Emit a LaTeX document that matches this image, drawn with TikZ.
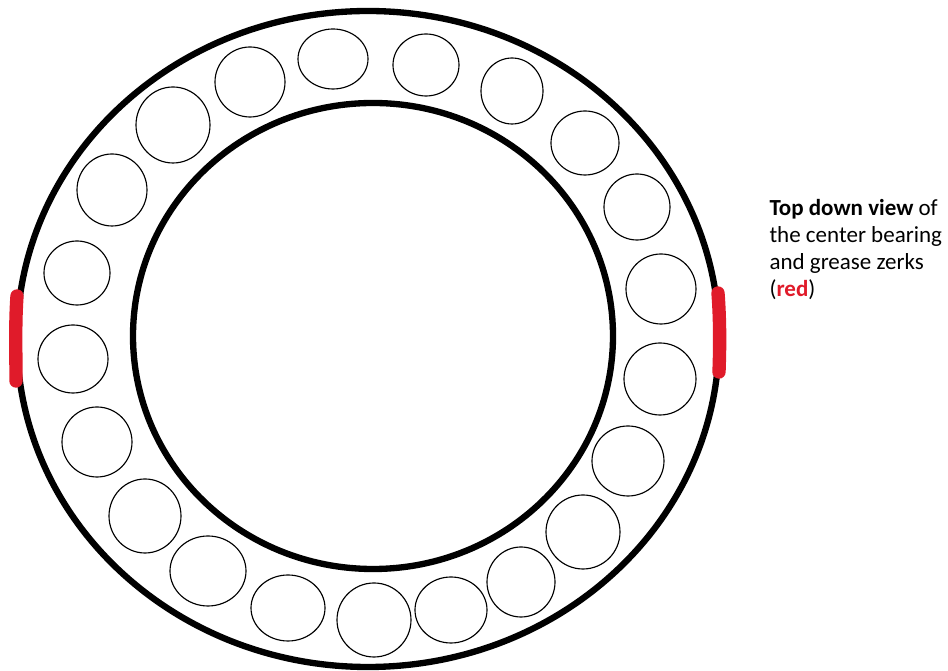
\documentclass[tikz,border=0pt]{standalone}
\usepackage{fontspec}
\setmainfont{Carlito}
\definecolor{zerkred}{HTML}{E01B2A}
\begin{document}
\begin{tikzpicture}[x=0.02cm,y=-0.02cm,line width=0.6pt,
  ring/.style={line width=3.6pt},
  ball/.style={draw=black,line width=0.65pt},
  zerk/.style={zerkred,line width=7.6pt,line cap=round}]
  \useasboundingbox (0,0) rectangle (948,671);
  \draw[ring] (368,339) ellipse[x radius=351,y radius=328];
  \draw[ring] (373,336) ellipse[x radius=240,y radius=233];
  \foreach \cx/\cy/\rx/\ry in {333/59/35/30,426/65/33/31,512/91/31/33,585/143/34/32,637/207/33/33,
    661/289/35/35,660/379/36/36,628/461/36/35,583/532/37/37,521/582/34/35,451/610/36/33,374/620/37/37,
    288/608/37/33,208/571/38/35,145/516/36/37,97/442/35/35,73/359/35/34,77/273/33/32,112/190/35/36,
    173/125/37/38,250/82/35/35}
    \draw[ball] (\cx,\cy) ellipse[x radius=\rx,y radius=\ry];
  \draw[zerk] (17,296) .. controls (15,325) and (16,350) .. (16,381);
  \draw[zerk] (718,293) .. controls (720,320) and (720,345) .. (719,372);
  \node[anchor=base west,align=left,inner sep=0pt,font=\fontsize{13.1pt}{15.5pt}\selectfont] (note) at (769,297)
    {\textbf{Top down view} of\\the center bearing\\and grease zerks\\(\textbf{\textcolor{zerkred}{red}})};
\end{tikzpicture}
\end{document}
